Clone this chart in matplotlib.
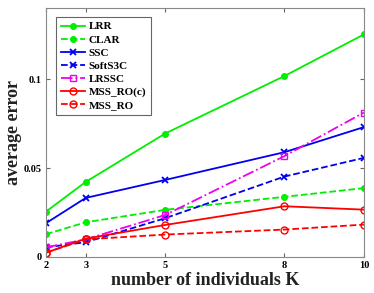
import matplotlib
matplotlib.use("Agg")
import matplotlib.pyplot as plt

# Data
K = [2, 3, 5, 8, 10]
lrr = [0.0255, 0.0422, 0.0694, 0.1017, 0.1251]
clar = [0.0128, 0.0195, 0.0265, 0.0338, 0.0387]
ssc = [0.0190, 0.0332, 0.0433, 0.0589, 0.0730]
softs3c = [0.0054, 0.0083, 0.0218, 0.0452, 0.0557]
lrssc = [0.0054, 0.0099, 0.0236, 0.0567, 0.0812]
mss_ro_c = [0.0024, 0.0103, 0.0180, 0.0285, 0.0266]
mss_ro = [0.0024, 0.0099, 0.0126, 0.0154, 0.0182]

plt.rcParams['font.family'] = ['Liberation Serif', 'DejaVu Serif']
plt.rcParams['font.weight'] = 'bold'

fig = plt.figure(figsize=(3.74, 2.93), dpi=100)
ax = fig.add_axes([0.123, 0.123, 0.850, 0.850])

green = '#00ee00'
blue = '#0000ee'
magenta = '#ee00ee'
red = '#ff0000'

ax.plot(K, lrr, '-', color=green, marker='o', ms=4, lw=1.3, label='LRR')
ax.plot(K, clar, '--', color=green, marker='o', ms=4, lw=1.3, label='CLAR')
ax.plot(K, ssc, '-', color=blue, marker='x', ms=4, mew=1.3, lw=1.3, label='SSC')
ax.plot(K, softs3c, '--', color=blue, marker='x', ms=4, mew=1.3, lw=1.3, label='SoftS3C')
ax.plot(K, lrssc, '-.', color=magenta, marker='s', ms=4, mfc='none', lw=1.3, label='LRSSC')
ax.plot(K, mss_ro_c, '-', color=red, marker='o', ms=5, mfc='none', lw=1.3, label='MSS_RO(c)')
ax.plot(K, mss_ro, '--', color=red, marker='o', ms=5, mfc='none', lw=1.3, label='MSS_RO')

ax.set_xlim(2, 10)
ax.set_ylim(0, 0.14)
ax.set_xticks(K)
ax.set_xticklabels([str(k) for k in K])
ax.set_yticks([0, 0.05, 0.1])
ax.set_yticklabels(['0', '0.05', '0.1'])
ax.tick_params(direction='in', top=True, right=True, labelsize=7.5, length=3,
               color='#666666', pad=3)
for s in ax.spines.values():
    s.set_color('#888888')
    s.set_linewidth(0.8)

ax.set_xlabel('number of individuals K', fontsize=13, fontweight='bold', color='#222222', labelpad=1)
ax.set_ylabel('average error', fontsize=13, fontweight='bold', color='#222222', labelpad=1)

leg = ax.legend(loc='upper left', fontsize=8, handlelength=2.2, handletextpad=0.3,
                labelspacing=0.3, borderpad=0.4, fancybox=False, framealpha=1,
                edgecolor='#666666', bbox_to_anchor=(0.015, 0.985))
leg.get_frame().set_linewidth(0.8)

fig.savefig('out.png', dpi=100)
